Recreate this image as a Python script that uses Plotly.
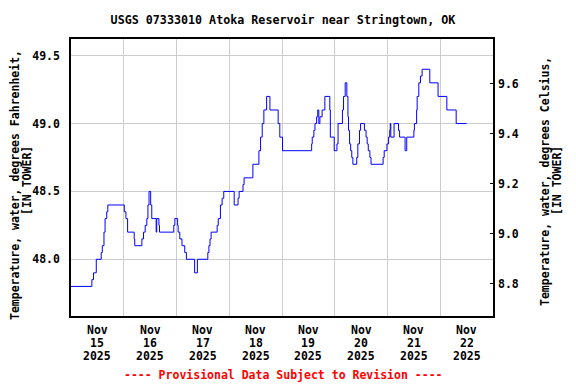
import plotly.graph_objects as go

# Change points of the step-like temperature record (deg F)
times = [
    "2025-11-15 00:00", "2025-11-15 09:30", "2025-11-15 10:15", "2025-11-15 11:30",
    "2025-11-15 13:45", "2025-11-15 14:15", "2025-11-15 15:00", "2025-11-15 15:30",
    "2025-11-15 16:15", "2025-11-15 16:45",
    "2025-11-16 00:15", "2025-11-16 01:00", "2025-11-16 01:45", "2025-11-16 04:45",
    "2025-11-16 05:00", "2025-11-16 08:15", "2025-11-16 09:00", "2025-11-16 09:45",
    "2025-11-16 10:30", "2025-11-16 11:00", "2025-11-16 11:30", "2025-11-16 12:15",
    "2025-11-16 12:45", "2025-11-16 14:45", "2025-11-16 15:00", "2025-11-16 16:00",
    "2025-11-16 16:15", "2025-11-16 22:45", "2025-11-16 23:15",
    "2025-11-17 00:30", "2025-11-17 00:45", "2025-11-17 01:30", "2025-11-17 02:30",
    "2025-11-17 03:45", "2025-11-17 04:30", "2025-11-17 08:15", "2025-11-17 09:30",
    "2025-11-17 14:15", "2025-11-17 14:45", "2025-11-17 15:15", "2025-11-17 15:45",
    "2025-11-17 18:30", "2025-11-17 19:00", "2025-11-17 20:00", "2025-11-17 20:45",
    "2025-11-17 21:30",
    "2025-11-18 02:15", "2025-11-18 04:00", "2025-11-18 04:30", "2025-11-18 06:15",
    "2025-11-18 06:45", "2025-11-18 10:45", "2025-11-18 13:30", "2025-11-18 14:15",
    "2025-11-18 15:00", "2025-11-18 15:45", "2025-11-18 17:00", "2025-11-18 18:30",
    "2025-11-18 22:15", "2025-11-18 23:00",
    "2025-11-19 00:15", "2025-11-19 13:30", "2025-11-19 13:45", "2025-11-19 14:30",
    "2025-11-19 15:00", "2025-11-19 15:45", "2025-11-19 16:15", "2025-11-19 16:45",
    "2025-11-19 17:15", "2025-11-19 18:15", "2025-11-19 19:30", "2025-11-19 21:45",
    "2025-11-19 22:00", "2025-11-19 23:45",
    "2025-11-20 01:00", "2025-11-20 01:30", "2025-11-20 03:30", "2025-11-20 04:00",
    "2025-11-20 04:45", "2025-11-20 05:30", "2025-11-20 06:00", "2025-11-20 06:15",
    "2025-11-20 06:45", "2025-11-20 07:15", "2025-11-20 07:45", "2025-11-20 08:15",
    "2025-11-20 10:00", "2025-11-20 10:30", "2025-11-20 11:15", "2025-11-20 11:45",
    "2025-11-20 13:30", "2025-11-20 14:15", "2025-11-20 14:45", "2025-11-20 15:15",
    "2025-11-20 16:00", "2025-11-20 16:30", "2025-11-20 22:00", "2025-11-20 22:30",
    "2025-11-20 23:45",
    "2025-11-21 00:30", "2025-11-21 01:00", "2025-11-21 01:15", "2025-11-21 01:30",
    "2025-11-21 03:00", "2025-11-21 05:00", "2025-11-21 05:30", "2025-11-21 08:00",
    "2025-11-21 08:45", "2025-11-21 12:00", "2025-11-21 12:15", "2025-11-21 13:15",
    "2025-11-21 13:30", "2025-11-21 14:15", "2025-11-21 15:00", "2025-11-21 15:45",
    "2025-11-21 19:15", "2025-11-21 23:00",
    "2025-11-22 03:00", "2025-11-22 07:15", "2025-11-22 12:00",
]
temps_f = [
    47.8, 47.85, 47.9, 48.0,
    48.05, 48.1, 48.2, 48.3,
    48.35, 48.4,
    48.35, 48.3, 48.2, 48.15,
    48.1, 48.15, 48.2, 48.25,
    48.3, 48.4, 48.5, 48.4,
    48.3, 48.2, 48.3, 48.25,
    48.2, 48.25, 48.3,
    48.25, 48.2, 48.15, 48.1,
    48.05, 48.0, 47.9, 48.0,
    48.05, 48.1, 48.15, 48.2,
    48.25, 48.3, 48.4, 48.45,
    48.5,
    48.4, 48.45, 48.5, 48.55,
    48.6, 48.7, 48.8, 48.9,
    49.0, 49.1, 49.2, 49.1,
    49.0, 48.9,
    48.8, 48.85, 48.9, 48.95,
    49.0, 49.05, 49.1, 49.0,
    49.05, 49.1, 49.2, 49.1,
    48.9, 48.8,
    48.85, 49.0, 49.1, 49.2,
    49.3, 49.2, 49.05, 48.95,
    48.85, 48.8, 48.75, 48.7,
    48.75, 48.85, 48.95, 49.0,
    48.95, 48.9, 48.85, 48.8,
    48.75, 48.7, 48.75, 48.8,
    48.85,
    48.9, 48.95, 49.0, 48.9,
    49.0, 48.95, 48.9, 48.8,
    48.9, 48.95, 49.0, 49.1,
    49.2, 49.3, 49.35, 49.4,
    49.3, 49.2,
    49.1, 49.0, 49.0,
]

day_numbers = ["15", "16", "17", "18", "19", "20", "21", "22"]
month_label = "Nov"
year_label = "2025"
day_boundaries = ["2025-11-16", "2025-11-17", "2025-11-18", "2025-11-19",
                  "2025-11-20", "2025-11-21", "2025-11-22"]
f_ticks = [48.0, 48.5, 49.0, 49.5]
c_ticks = [8.8, 9.0, 9.2, 9.4, 9.6]

FONT = "DejaVu Sans Mono"
FS = 11.5

# the page body has an 8px margin, so the figure is drawn 8px in from the corner
OFF = 8
W, H = 576 - OFF, 384 - OFF
L, T = 71 - OFF, 39 - OFF
plot_w, plot_h = 422, 277
R = W - L - plot_w
B = H - T - plot_h

def py(ref_px):
    return (T + plot_h - (ref_px - OFF)) / plot_h

def pxx(ref_px):
    return ((ref_px - OFF) - L) / plot_w

fig = go.Figure()
fig.add_trace(go.Scatter(x=times, y=temps_f, mode="lines", line_shape="hv",
                         line=dict(color="#0000ff", width=1), showlegend=False,
                         hoverinfo="skip"))
# invisible trace to activate the Celsius axis
fig.add_trace(go.Scatter(x=[times[0]], y=[9.0], yaxis="y2", mode="markers",
                         marker=dict(opacity=0), showlegend=False, hoverinfo="skip"))

fig.update_layout(
    width=W, height=H,
    margin=dict(l=L, r=R, t=T, b=B, autoexpand=False),
    paper_bgcolor="white", plot_bgcolor="white",
    font=dict(family=FONT, size=FS, color="black"),
    title=dict(text="<b>USGS 07333010 Atoka Reservoir near Stringtown, OK</b>",
               x=(283 - OFF) / W, xanchor="center", y=1 - (20 - OFF) / H, yanchor="middle",
               font=dict(family=FONT, size=11.7, color="black")),
    xaxis=dict(type="date", range=["2025-11-15 00:00", "2025-11-23 00:00"],
               tickvals=day_boundaries, showticklabels=False, ticks="",
               showgrid=True, gridcolor="#cccccc", gridwidth=1,
               showline=True, linecolor="black", linewidth=1.5, mirror=True,
               zeroline=False),
    yaxis=dict(range=[47.582, 49.623], tickvals=f_ticks,
               ticktext=[f"<b>{v:.1f}</b>" for v in f_ticks],
               ticks="", ticklabelstandoff=7,
               showgrid=True, gridcolor="#cccccc", gridwidth=1,
               showline=True, linecolor="black", linewidth=1.5, mirror=True,
               zeroline=False),
    yaxis2=dict(range=[8.672, 9.779], overlaying="y", side="right",
                tickvals=c_ticks, ticktext=[f"<b>{v:.1f}</b>" for v in c_ticks],
                ticks="inside", ticklen=3, tickcolor="black", ticklabelstandoff=4,
                showgrid=False, showline=False, zeroline=False),
)

ann = []
for d in day_numbers:
    xc = f"2025-11-{d} 12:00"
    for txt, ypx in ((month_label, 330), (d, 343.3), (year_label, 356.3)):
        ann.append(dict(x=xc, xref="x", y=py(ypx), yref="paper", text=f"<b>{txt}</b>",
                        showarrow=False, xanchor="center", yanchor="middle",
                        font=dict(family=FONT, size=FS, color="black")))

ann.append(dict(x=pxx(283), xref="paper", y=py(375), yref="paper",
                text="<b>---- Provisional Data Subject to Revision ----</b>",
                showarrow=False, xanchor="center", yanchor="middle",
                font=dict(family=FONT, size=FS, color="#ff0000")))

for txt, xpx, ypx in (("Temperature, water, degrees Fahrenheit,", 15, 185),
                      ("[IN TOWER]", 27, 181)):
    ann.append(dict(x=pxx(xpx), xref="paper", y=py(ypx), yref="paper",
                    text=f"<b>{txt}</b>", textangle=-90, showarrow=False,
                    xanchor="center", yanchor="middle",
                    font=dict(family=FONT, size=FS, color="black")))
for txt, xpx, ypx in (("Temperature, water, degrees Celsius,", 545, 182),
                      ("[IN TOWER]", 557, 181)):
    ann.append(dict(x=pxx(xpx), xref="paper", y=py(ypx), yref="paper",
                    text=f"<b>{txt}</b>", textangle=-90, showarrow=False,
                    xanchor="center", yanchor="middle",
                    font=dict(family=FONT, size=FS, color="black")))

fig.update_layout(annotations=ann)
fig.write_html("out.html")
